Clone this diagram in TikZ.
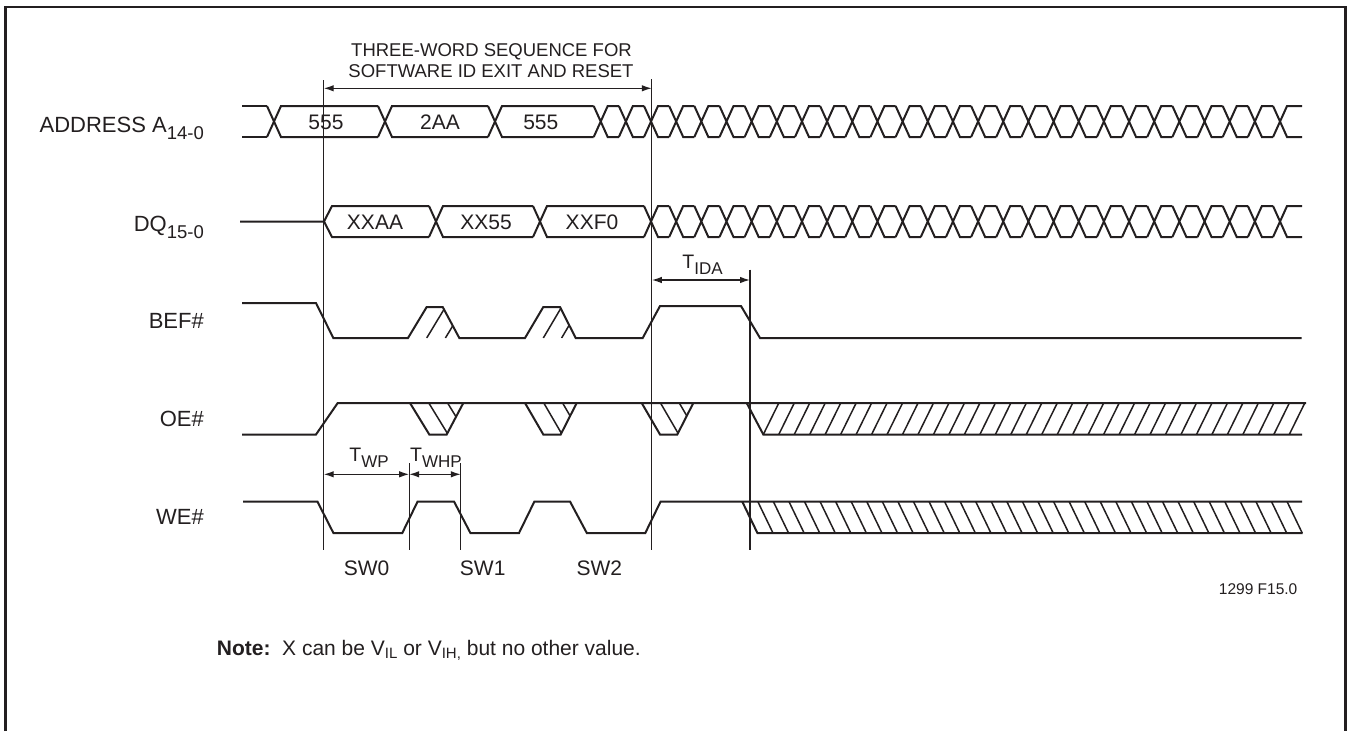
\documentclass[tikz,border=0pt]{standalone}
\usepackage{fontspec}
\setmainfont{Liberation Sans}
\usetikzlibrary{arrows.meta}
\definecolor{ink}{RGB}{35,31,32}
\newcommand\lowsub[1]{\raisebox{-6.5pt}{\fontsize{18.5}{18.5}\selectfont #1}}
\newcommand\tsub[1]{\raisebox{-6pt}{\fontsize{17}{17}\selectfont #1}}
\newcommand\nsub[1]{\raisebox{-3.5pt}{\fontsize{15}{15}\selectfont #1}}
\begin{document}
\begin{tikzpicture}[x=1pt,y=-1pt,color=ink,
  sig/.style={line width=2pt,line join=miter},
  hatchln/.style={line width=1.5pt},
  vline/.style={line width=1.2pt},
  dim/.style={line width=1.3pt,{Latex[length=10pt,width=6.5pt]}-{Latex[length=10pt,width=6.5pt]}},
  lbl/.style={font=\fontsize{22}{24}\selectfont,inner sep=0pt,anchor=base east},
  val/.style={font=\fontsize{21}{24}\selectfont,inner sep=0pt,anchor=base},
  small/.style={font=\fontsize{18.5}{20}\selectfont,inner sep=0pt,anchor=base},
  tlab/.style={font=\fontsize{19.5}{22}\selectfont,inner sep=0pt,anchor=base}]
\useasboundingbox (0,0) rectangle (1348,731);
\fill[white] (0,0) rectangle (1348,731);
% frame
\draw[line width=2.5pt] (5.5,731) -- (5.5,7) -- (1345.5,7) -- (1345.5,731);

% ---------- labels ----------
\node[lbl] (addr) at (204,132.7) {ADDRESS A\lowsub{14-0}};
\node[lbl] (dq) at (204,231.5) {DQ\lowsub{15-0}};
\node[lbl] (bef) at (204,328) {BEF\#};
\node[lbl] (oe) at (204,426.5) {OE\#};
\node[lbl] (we) at (204,524) {WE\#};

% ---------- top text ----------
\node[small] (seq1) at (491.5,56.7) {THREE-WORD SEQUENCE FOR};
\node[small] (seq2) at (491,77.3) {SOFTWARE ID EXIT AND RESET};

% ---------- ADDRESS bus ----------
\draw[sig] (242,106) -- (267,106) (242,137) -- (267,137);
\foreach \a/\b in {274/385,385/495,495/600.7}{
  \draw[sig] (\a-7,106) -- (\a+7,137) -- (\b-7,137) (\a-7,137) -- (\a+7,106) -- (\b-7,106);
}
\foreach \k in {0,...,26}{
  \pgfmathsetmacro\c{600.7+25.16*\k}
  \draw[sig] (\c-7,106) -- (\c+7,137) -- (\c+18.16,137) (\c-7,137) -- (\c+7,106) -- (\c+18.16,106);
}
\draw[sig] (1273.02,106) -- (1287.02,137) -- (1302,137) (1273.02,137) -- (1287.02,106) -- (1302,106);
\node[val] (a1) at (326,129.3) {555};
\node[val] (a2) at (440,129.3) {2AA};
\node[val] (a3) at (540.8,129.3) {555};

% ---------- DQ bus ----------
\draw[sig] (240,221.5) -- (324,221.5) -- (332,206) -- (429,206) (324,221.5) -- (332,237) -- (429,237);
\foreach \a/\b in {436/540,540/651.02}{
  \draw[sig] (\a-7,206) -- (\a+7,237) -- (\b-7,237) (\a-7,237) -- (\a+7,206) -- (\b-7,206);
}
\foreach \k in {2,...,26}{
  \pgfmathsetmacro\c{600.7+25.16*\k}
  \draw[sig] (\c-7,206) -- (\c+7,237) -- (\c+18.16,237) (\c-7,237) -- (\c+7,206) -- (\c+18.16,206);
}
\draw[sig] (1273.02,206) -- (1287.02,237) -- (1302,237) (1273.02,237) -- (1287.02,206) -- (1302,206);
\node[val] (d1) at (375,229.8) {XXAA};
\node[val] (d2) at (486,229.8) {XX55};
\node[val] (d3) at (592,229.8) {XXF0};

% ---------- BEF# ----------
\draw[sig] (242,303) -- (316,303) -- (333.3,338) -- (408,338) -- (426.7,307) -- (442.7,307)
  -- (459.3,338) -- (525,338) -- (543.3,307) -- (560,307) -- (575.7,338) -- (642.7,338)
  -- (660,306) -- (741,306) -- (760,338) -- (1301.5,338);
\begin{scope}
  \clip (408,338) -- (426.7,307) -- (442.7,307) -- (459.3,338) -- cycle;
  \foreach \s in {18.7,37.4} \draw[hatchln] (408+\s,338) -- (426.7+\s,307);
\end{scope}
\begin{scope}
  \clip (525,338) -- (543.3,307) -- (560,307) -- (575.7,338) -- cycle;
  \foreach \s in {18.3,36.6} \draw[hatchln] (525+\s,338) -- (543.3+\s,307);
\end{scope}

% ---------- OE# ----------
\draw[sig] (242,434.5) -- (316,434.5) -- (337.7,403) -- (1306,403);
\foreach \p/\q/\r/\t in {410/429.3/446.7/463.3,525/543.3/560.7/576.7,641.7/660/677.3/693.3}{
  \draw[sig] (\p,403) -- (\q,434.5) -- (\r,434.5) -- (\t,403);
  \begin{scope}
    \clip (\p,403) -- (\q,434.5) -- (\r,434.5) -- (\t,403) -- cycle;
    \foreach \s in {1,2} \draw[hatchln] (\p+\s*18.8,403) -- (\q+\s*18.8,434.5);
  \end{scope}
}
\draw[sig] (746.7,403) -- (763.3,434.5) -- (1302,434.5);
\foreach \k in {0,...,34} \draw[hatchln] ({763.3+15.47*\k},434.5) -- ++(15.5,-31.5);

% ---------- WE# ----------
\draw[sig] (243,501.5) -- (317.4,501.5) -- (333.4,533) -- (402.3,533) -- (417.6,501.5) -- (454,501.5)
  -- (470.4,533) -- (519,533) -- (534.4,501.5) -- (570,501.5) -- (586.8,533) -- (645.3,533)
  -- (660.6,501.5) -- (1302,501.5);
\draw[sig] (742.2,501.5) -- (757.4,533) -- (1302.5,533);
\foreach \k in {1,...,35} \draw[hatchln] ({742.2+15.566*\k},501.5) -- ++(15.2,31.5);

% ---------- vertical reference lines ----------
\coordinate (v1t) at (323.7,80);   \coordinate (v1b) at (323.7,549.5);
\coordinate (v2t) at (651.8,79);   \coordinate (v2b) at (651.8,549.5);
\coordinate (v3t) at (750,269.5);  \coordinate (v3b) at (750,549.5);
\coordinate (v4t) at (409.2,463);  \coordinate (v4b) at (409.2,549.5);
\coordinate (v5t) at (460.8,463);  \coordinate (v5b) at (460.8,549.5);
\draw[vline] (v1t) -- (v1b);
\draw[vline] (v2t) -- (v2b);
\draw[vline] (v3t) -- (v3b);
\draw[vline] (v4t) -- (v4b);
\draw[vline] (v5t) -- (v5b);

% ---------- dimension arrows ----------
\coordinate (seqL) at (323.7,88.3);  \coordinate (seqR) at (651.8,88.3);
\coordinate (idaL) at (651.8,280);   \coordinate (idaR) at (750,280);
\coordinate (wpL) at (323.7,474.3);  \coordinate (wpR) at (409.2,474.3);
\coordinate (whpR) at (460.8,474.3);
\draw[dim] (seqL) -- (seqR);
\draw[dim] (idaL) -- (idaR);
\draw[dim] (wpL) -- (wpR);
\draw[dim] (wpR) -- (whpR);
\node[tlab] (tida) at (702.5,268.3) {T\tsub{IDA}};
\node[tlab] (twp) at (369,461.5) {T\tsub{WP}};
\node[tlab] (twhp) at (436,461.5) {T\tsub{WHP}};

% ---------- SW labels ----------
\node[val] (sw0) at (366.6,575) {SW0};
\node[val] (sw1) at (482.7,575) {SW1};
\node[val] (sw2) at (599.4,575) {SW2};

% ---------- figure number and note ----------
\node[font=\fontsize{15.5}{17}\selectfont,inner sep=0pt,anchor=base east] (fig) at (1297.5,594) {1299 F15.0};
\node[font=\fontsize{21}{24}\selectfont,inner sep=0pt,anchor=base west] (note) at (216.7,655)
  {\textbf{Note:}\ \ X can be V\nsub{IL} or V\nsub{IH,} but no other value.};
\end{tikzpicture}
\end{document}
